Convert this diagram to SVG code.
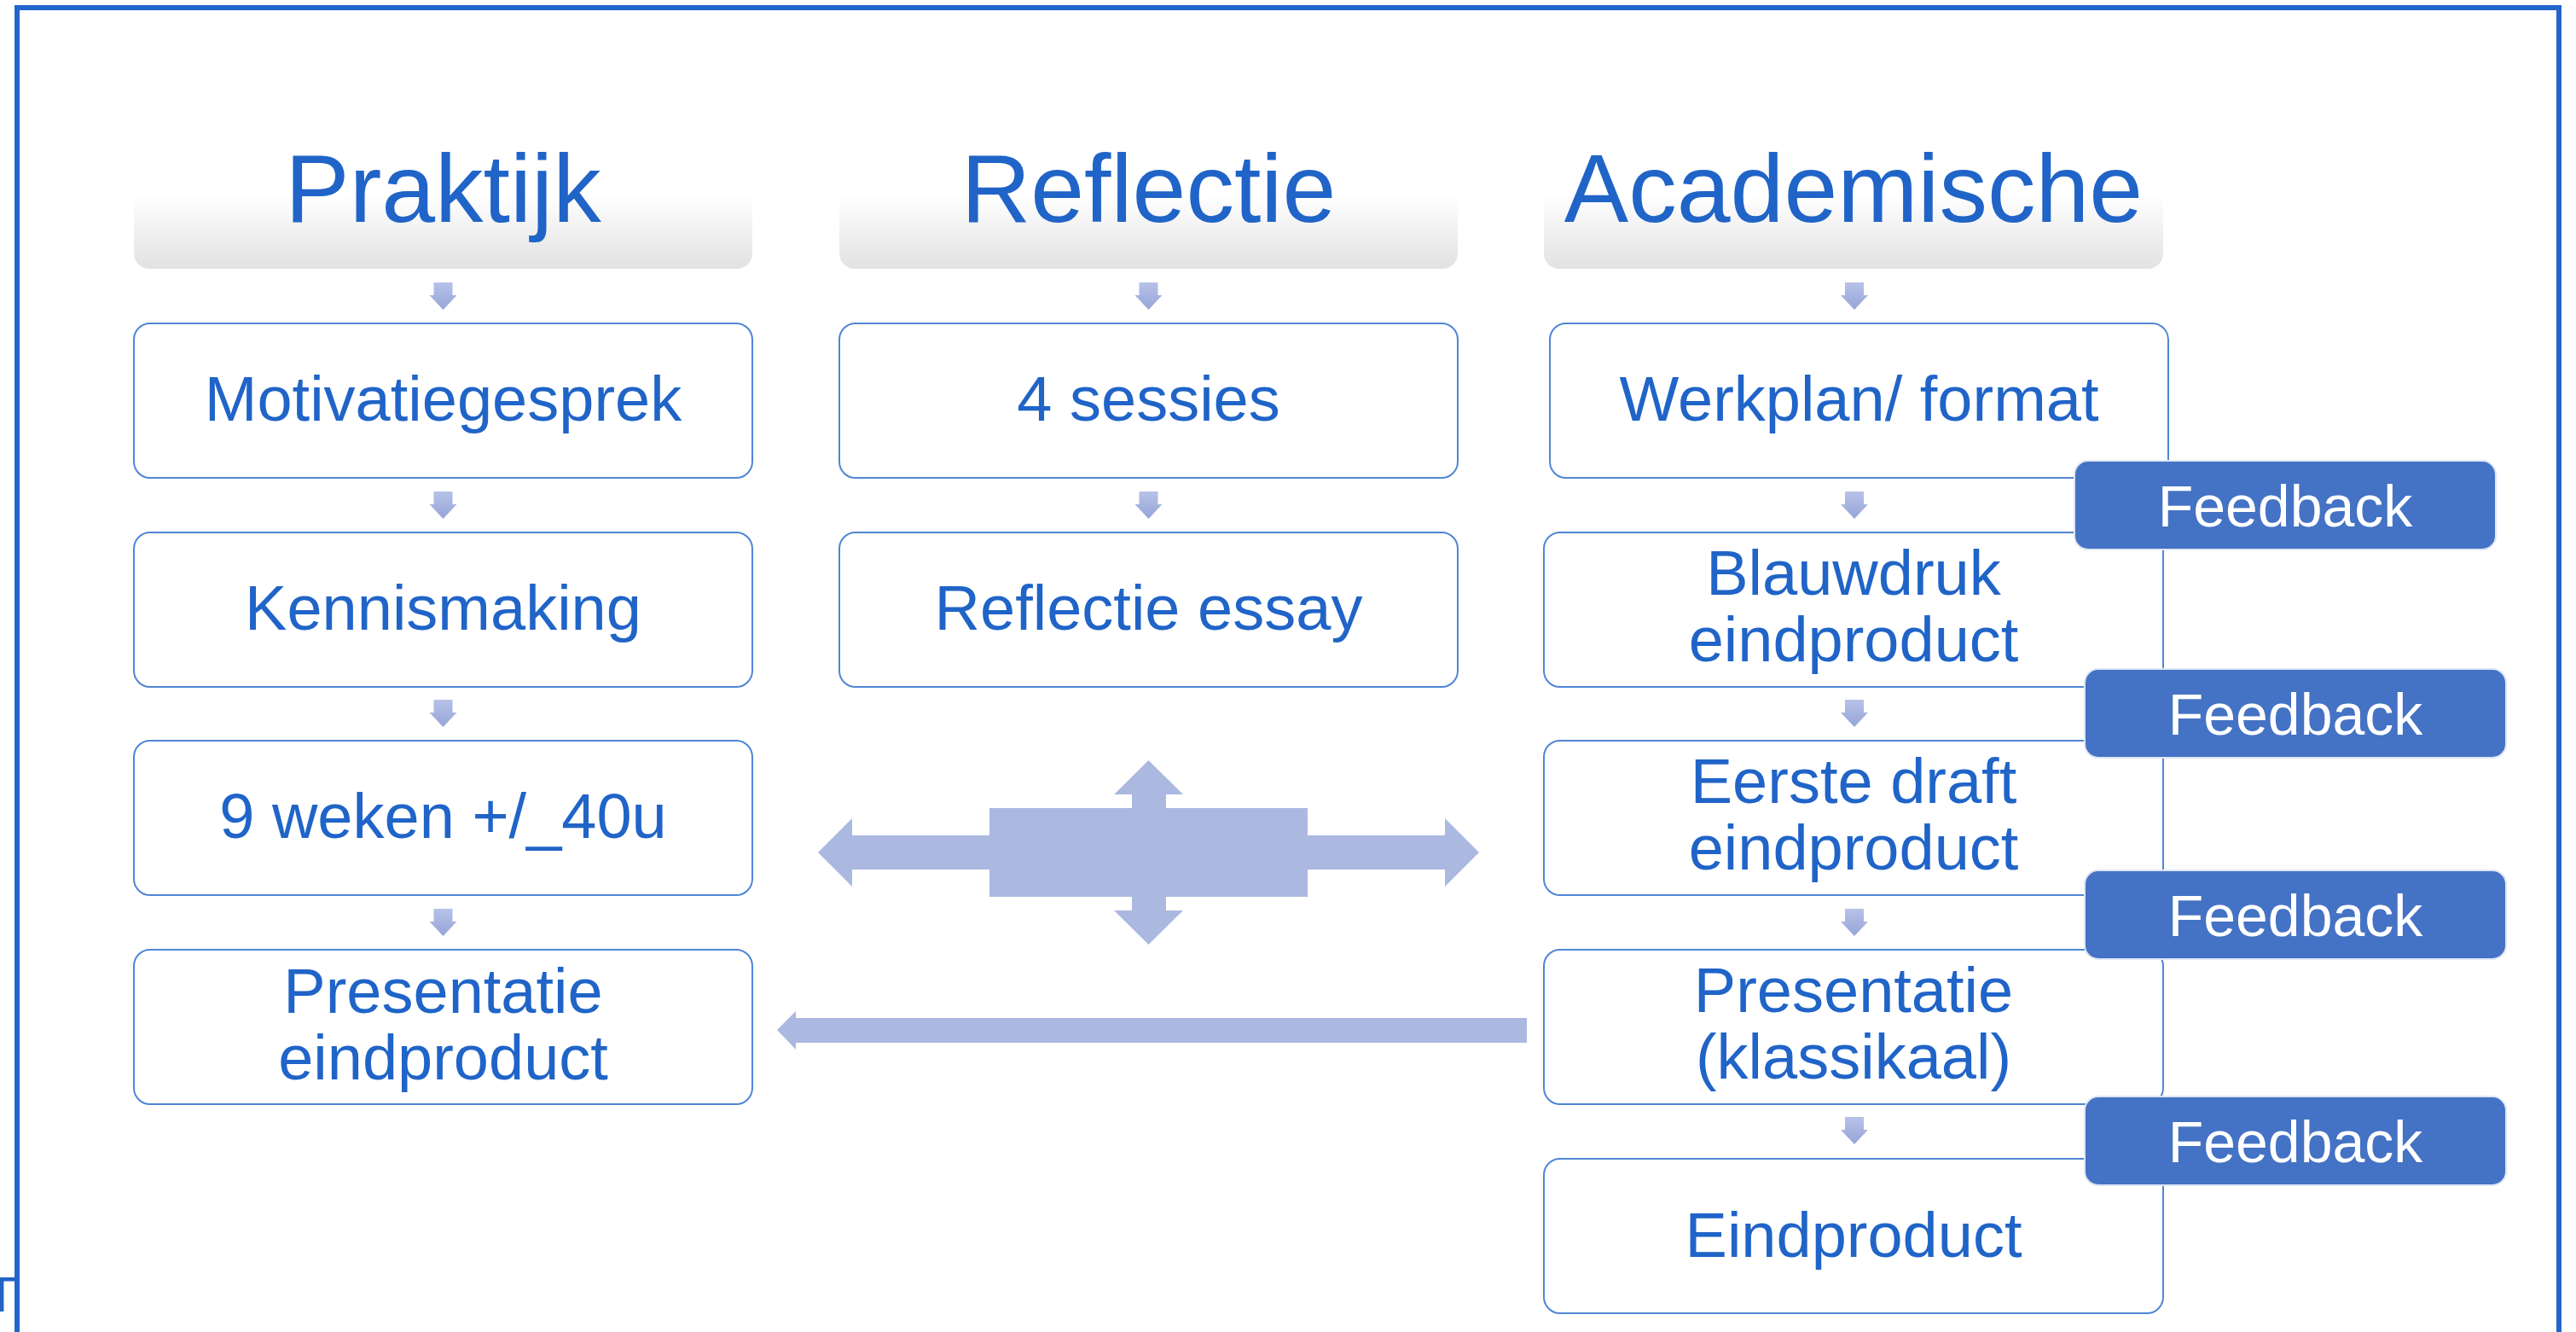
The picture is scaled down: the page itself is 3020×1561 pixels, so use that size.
<svg xmlns="http://www.w3.org/2000/svg" width="3020" height="1561" viewBox="0 0 3020 1561">
<defs>
<linearGradient id="hdr" x1="0" y1="0" x2="0" y2="1">
<stop offset="0" stop-color="#ffffff"/>
<stop offset="0.5" stop-color="#ffffff"/>
<stop offset="1" stop-color="#e2e2e2"/>
</linearGradient>
<linearGradient id="arr" x1="0" y1="0" x2="0" y2="1">
<stop offset="0" stop-color="#b7c2e8"/>
<stop offset="1" stop-color="#96a5d8"/>
</linearGradient>
<path id="dn" d="M-11 0H11V15H16L0 32L-16 15H-11Z"/>
<style>
.hd{fill:url(#hdr);}
.bx{fill:#ffffff;stroke:#4f86d6;stroke-width:2;}
.fb{fill:#4472c4;stroke:#dfe6f5;stroke-width:2;}
.ht{font-family:"Liberation Sans",Arial,sans-serif;font-size:113px;fill:#2064c8;text-anchor:middle;}
.t{font-family:"Liberation Sans",Arial,sans-serif;font-size:74px;fill:#2064c8;text-anchor:middle;}
.ft{font-family:"Liberation Sans",Arial,sans-serif;font-size:68px;fill:#ffffff;text-anchor:middle;}
.big{fill:#abb9e1;}
.sa{fill:url(#arr);}
</style>
</defs>
<rect width="3020" height="1561" fill="#ffffff"/>
<rect x="20" y="9" width="2980" height="1700" fill="none" stroke="#2266cc" stroke-width="6"/>
<text x="-16" y="1537" style="font-family:'Liberation Sans',Arial,sans-serif;font-size:58px;fill:#2064c8;">T</text>

<g id="connectors">
<use href="#dn" class="sa" x="519.5" y="331"/>
<use href="#dn" class="sa" x="519.5" y="576"/>
<use href="#dn" class="sa" x="519.5" y="820"/>
<use href="#dn" class="sa" x="519.5" y="1065"/>
<use href="#dn" class="sa" x="1346.5" y="331"/>
<use href="#dn" class="sa" x="1346.5" y="576"/>
<use href="#dn" class="sa" x="2174" y="331"/>
<use href="#dn" class="sa" x="2174" y="576"/>
<use href="#dn" class="sa" x="2174" y="820"/>
<use href="#dn" class="sa" x="2174" y="1065"/>
<use href="#dn" class="sa" x="2174" y="1309"/>
<path class="big" d="M959 999L999 959V979H1160V947H1327V931H1306L1346.5 891L1387 931H1367V947H1533V979H1694V959L1734 999L1694 1039V1019H1533V1051H1367V1067H1387L1346.5 1107L1306 1067H1327V1051H1160V1019H999V1039Z"/>
<path class="big" d="M911 1207L933 1185V1193H1790V1222H933V1230Z"/>
</g>

<g id="header-praktijk">
<rect class="hd" x="157" y="140" width="725" height="175" rx="18"/>
<text class="ht" x="519.5" y="260">Praktijk</text>
</g>
<g id="header-reflectie">
<rect class="hd" x="984" y="140" width="725" height="175" rx="18"/>
<text class="ht" x="1346.5" y="260">Reflectie</text>
</g>
<g id="header-academische">
<rect class="hd" x="1810" y="140" width="726" height="175" rx="18"/>
<text class="ht" x="2173" y="260">Academische</text>
</g>

<g id="motivatiegesprek">
<rect class="bx" x="157" y="379" width="725" height="181" rx="19"/>
<text class="t" x="519.5" y="493">Motivatiegesprek</text>
</g>
<g id="kennismaking">
<rect class="bx" x="157" y="624" width="725" height="181" rx="19"/>
<text class="t" x="519.5" y="738">Kennismaking</text>
</g>
<g id="weken">
<rect class="bx" x="157" y="868" width="725" height="181" rx="19"/>
<text class="t" x="519.5" y="982">9 weken +/_40u</text>
</g>
<g id="presentatie-eindproduct">
<rect class="bx" x="157" y="1113" width="725" height="181" rx="19"/>
<text class="t" x="519.5" y="1187">Presentatie</text>
<text class="t" x="519.5" y="1265">eindproduct</text>
</g>

<g id="sessies">
<rect class="bx" x="984" y="379" width="725" height="181" rx="19"/>
<text class="t" x="1346.5" y="493">4 sessies</text>
</g>
<g id="reflectie-essay">
<rect class="bx" x="984" y="624" width="725" height="181" rx="19"/>
<text class="t" x="1346.5" y="738">Reflectie essay</text>
</g>

<g id="werkplan">
<rect class="bx" x="1817" y="379" width="725" height="181" rx="19"/>
<text class="t" x="2179.5" y="493">Werkplan/ format</text>
</g>
<g id="blauwdruk">
<rect class="bx" x="1810" y="624" width="726" height="181" rx="19"/>
<text class="t" x="2173" y="697">Blauwdruk</text>
<text class="t" x="2173" y="775">eindproduct</text>
</g>
<g id="eerste-draft">
<rect class="bx" x="1810" y="868" width="726" height="181" rx="19"/>
<text class="t" x="2173" y="941">Eerste draft</text>
<text class="t" x="2173" y="1019">eindproduct</text>
</g>
<g id="presentatie-klassikaal">
<rect class="bx" x="1810" y="1113" width="726" height="181" rx="19"/>
<text class="t" x="2173" y="1186">Presentatie</text>
<text class="t" x="2173" y="1264">(klassikaal)</text>
</g>
<g id="eindproduct">
<rect class="bx" x="1810" y="1358" width="726" height="181" rx="19"/>
<text class="t" x="2173" y="1473">Eindproduct</text>
</g>

<g id="feedback-1">
<rect class="fb" x="2432" y="540" width="494" height="104" rx="16"/>
<text class="ft" x="2679" y="617">Feedback</text>
</g>
<g id="feedback-2">
<rect class="fb" x="2444" y="784" width="494" height="104" rx="16"/>
<text class="ft" x="2691" y="861">Feedback</text>
</g>
<g id="feedback-3">
<rect class="fb" x="2444" y="1020" width="494" height="104" rx="16"/>
<text class="ft" x="2691" y="1097">Feedback</text>
</g>
<g id="feedback-4">
<rect class="fb" x="2444" y="1285" width="494" height="104" rx="16"/>
<text class="ft" x="2691" y="1362">Feedback</text>
</g>
</svg>
